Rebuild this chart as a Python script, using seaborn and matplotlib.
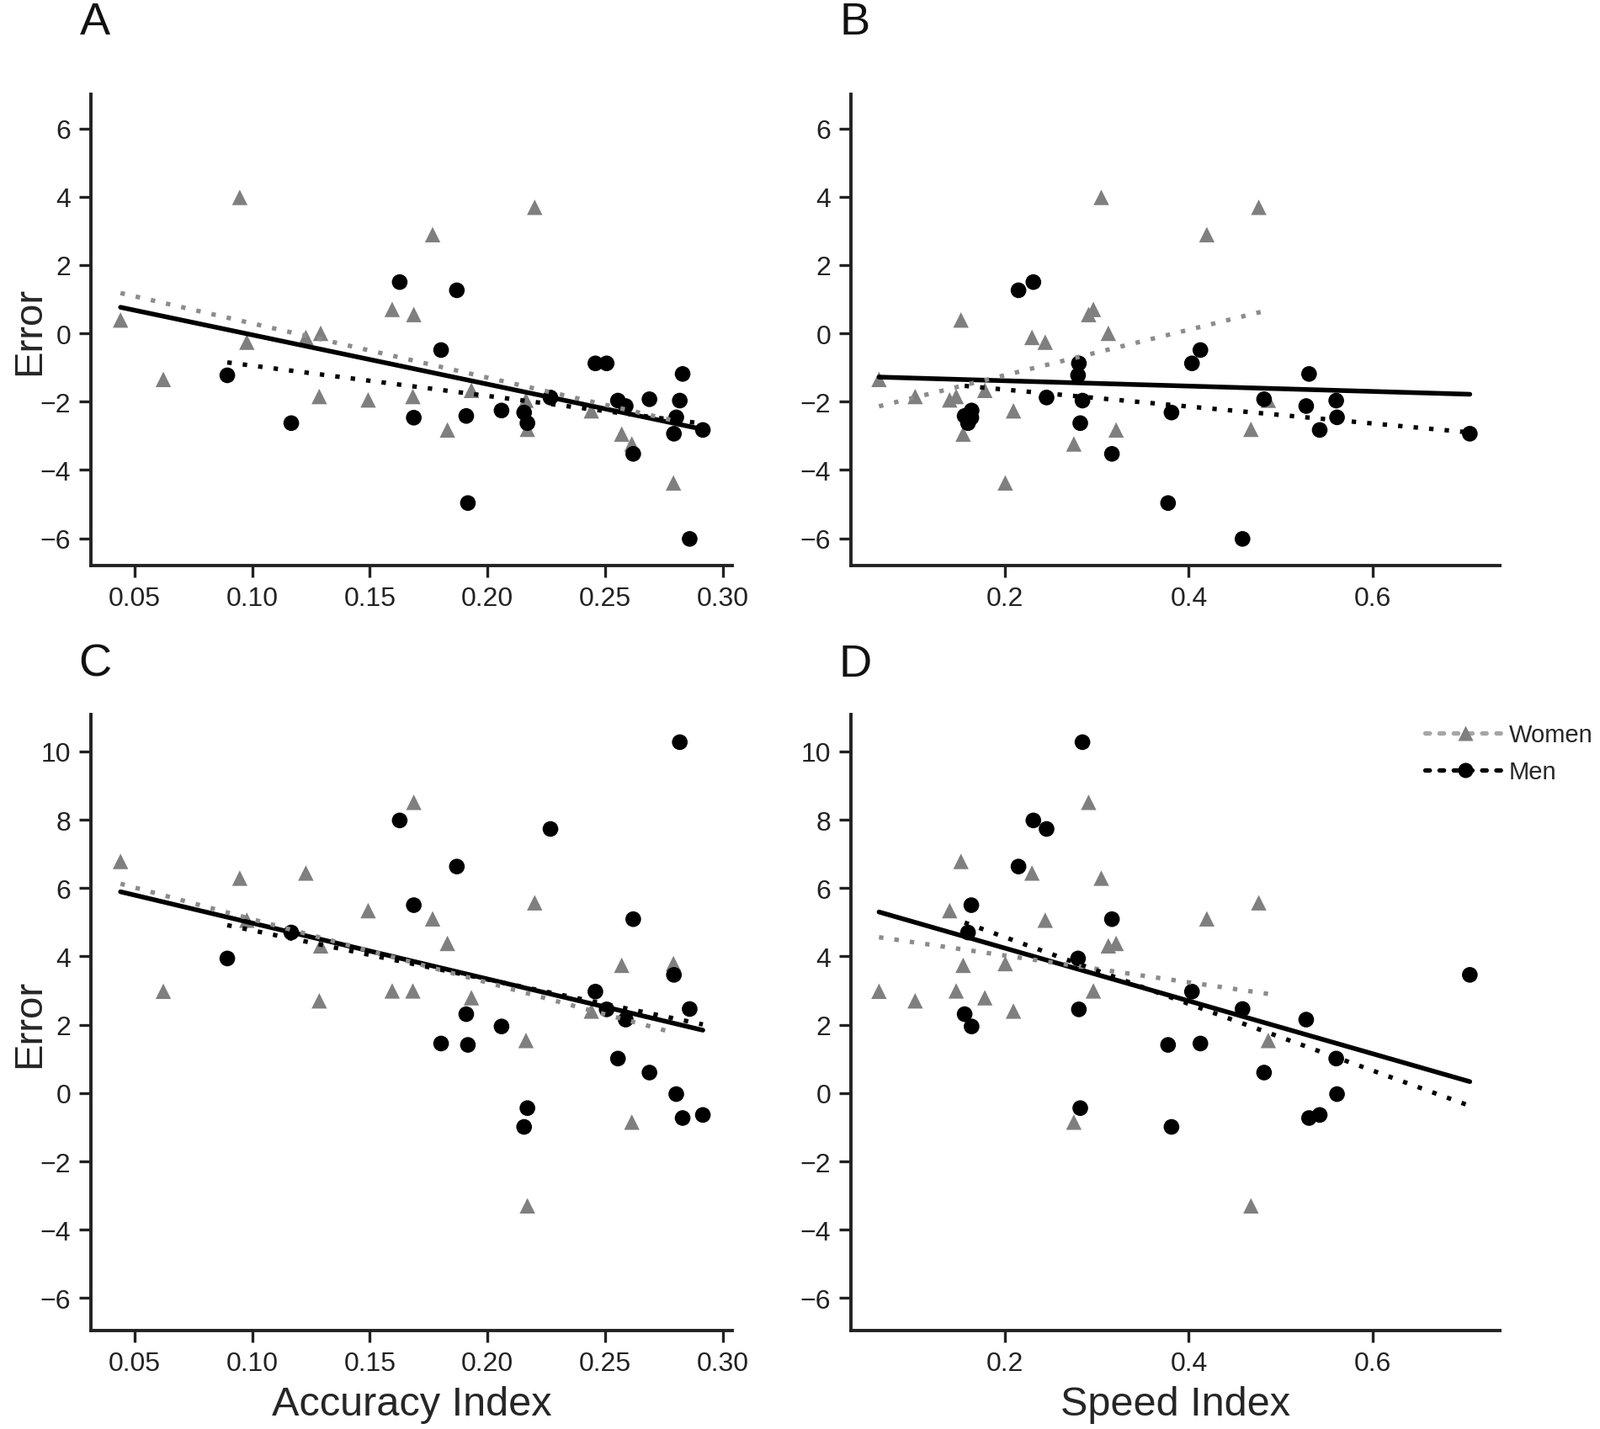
import matplotlib
matplotlib.use("Agg")
import numpy as np
import pandas as pd
import seaborn as sns
import matplotlib.pyplot as plt
from matplotlib.lines import Line2D
from matplotlib.ticker import FormatStrFormatter

# ---------------- data ----------------
women_accuracy = [0.044, 0.0622, 0.0947, 0.0977, 0.1228, 0.1291, 0.1285, 0.1493, 0.1595, 0.1687,
                  0.1683, 0.1767, 0.183, 0.1932, 0.2201, 0.2164, 0.217, 0.2442, 0.2571, 0.2614, 0.2791]
women_speed = [0.1517, 0.0624, 0.3046, 0.2435, 0.2291, 0.3123, 0.1018, 0.1394, 0.296, 0.2908,
               0.1465, 0.4196, 0.3208, 0.1777, 0.4762, 0.4866, 0.4677, 0.2089, 0.1541, 0.2747, 0.2]
women_error_top = [0.39, -1.35, 3.98, -0.26, -0.12, 0.0, -1.85, -1.95, 0.7, 0.55,
                   -1.85, 2.89, -2.83, -1.67, 3.69, -1.96, -2.81, -2.27, -2.95, -3.24, -4.38]
women_error_bottom = [6.78, 2.98, 6.29, 5.06, 6.44, 4.31, 2.70, 5.34, 2.99, 8.51,
                      2.99, 5.1, 4.38, 2.79, 5.57, 1.54, -3.3, 2.4, 3.74, -0.85, 3.79]

men_accuracy = [0.0894, 0.1166, 0.1627, 0.1687, 0.187, 0.1803, 0.191, 0.1917, 0.206, 0.2156,
                0.217, 0.2268, 0.2459, 0.2507, 0.2555, 0.2588, 0.262, 0.2689, 0.283, 0.2818,
                0.2803, 0.2793, 0.2916, 0.286]
men_speed = [0.2793, 0.1594, 0.2306, 0.163, 0.2144, 0.4126, 0.1557, 0.3774, 0.1633, 0.3811,
             0.2817, 0.245, 0.4034, 0.2802, 0.5606, 0.5279, 0.3162, 0.482, 0.531, 0.2841,
             0.5615, 0.7062, 0.5426, 0.4585]
men_error_top = [-1.23, -2.63, 1.5, -2.47, 1.26, -0.49, -2.42, -4.97, -2.26, -2.32,
                 -2.63, -1.88, -0.88, -0.88, -1.97, -2.13, -3.53, -1.93, -1.19, -1.97,
                 -2.46, -2.94, -2.83, -6.02]
men_error_bottom = [3.94, 4.7, 7.98, 5.5, 6.63, 1.45, 2.31, 1.41, 1.95, -0.99,
                    -0.44, 7.73, 2.97, 2.45, 1.01, 2.15, 5.09, 0.6, -0.73, 10.27,
                    -0.03, 3.46, -0.64, 2.46]

panel_letters = ["A", "B", "C", "D"]
accuracy_ticks = [0.05, 0.10, 0.15, 0.20, 0.25, 0.30]
speed_ticks = [0.2, 0.4, 0.6]
top_yticks = [-6, -4, -2, 0, 2, 4, 6]
bottom_yticks = [-6, -4, -2, 0, 2, 4, 6, 8, 10]
legend_labels = ["Women", "Men"]

women = pd.DataFrame({"accuracy": women_accuracy, "speed": women_speed,
                      "err_top": women_error_top, "err_bottom": women_error_bottom})
men = pd.DataFrame({"accuracy": men_accuracy, "speed": men_speed,
                    "err_top": men_error_top, "err_bottom": men_error_bottom})
women["sex"] = "Women"
men["sex"] = "Men"
both = pd.concat([women, men], ignore_index=True)

# ---------------- style ----------------
sns.set_theme(style="ticks")
plt.rcParams["font.family"] = ["Liberation Sans", "DejaVu Sans"]
plt.rcParams["axes.unicode_minus"] = True

W, H = 1901, 1699
fig = plt.figure(figsize=(W / 100, H / 100), dpi=100)


def px_axes(x0, x1, ytop, ybot):
    return fig.add_axes([x0 / W, 1 - ybot / H, (x1 - x0) / W, (ybot - ytop) / H])


axA = px_axes(108, 870, 113, 673)
axB = px_axes(1011, 1782, 113, 673)
axC = px_axes(108, 870, 850, 1582)
axD = px_axes(1011, 1782, 850, 1582)

GRAY_PT = "#7f7f7f"
GRAY_LN = "#8c8c8c"
DOT = (0, (1, 2.5))

panels = [
    (axA, "accuracy", "err_top", (0.0314, 0.3041), (-6.8, 7.0), accuracy_ticks, top_yticks, "%.2f"),
    (axB, "speed", "err_top", (0.0318, 0.7389), (-6.8, 7.0), speed_ticks, top_yticks, "%.1f"),
    (axC, "accuracy", "err_bottom", (0.0314, 0.3041), (-6.95, 11.08), accuracy_ticks, bottom_yticks, "%.2f"),
    (axD, "speed", "err_bottom", (0.0318, 0.7389), (-6.95, 11.08), speed_ticks, bottom_yticks, "%.1f"),
]

for ax, xc, yc, xl, yl, xt, yt, fmt in panels:
    sns.scatterplot(data=women, x=xc, y=yc, marker="^", s=175, color=GRAY_PT,
                    edgecolor="none", linewidth=0, ax=ax, zorder=2)
    sns.scatterplot(data=men, x=xc, y=yc, marker="o", s=180, color="black",
                    edgecolor="none", linewidth=0, ax=ax, zorder=2)
    sns.regplot(data=both, x=xc, y=yc, scatter=False, ci=None, color="black", ax=ax,
                line_kws=dict(lw=4.0, solid_capstyle="round", zorder=3))
    sns.regplot(data=women, x=xc, y=yc, scatter=False, ci=None, color=GRAY_LN, ax=ax,
                line_kws=dict(lw=3.8, ls=DOT, dash_capstyle="butt", zorder=4))
    sns.regplot(data=men, x=xc, y=yc, scatter=False, ci=None, color="black", ax=ax,
                line_kws=dict(lw=3.8, ls=DOT, dash_capstyle="butt", zorder=4))
    ax.set_xlim(*xl)
    ax.set_ylim(*yl)
    ax.set_xticks(xt)
    ax.set_yticks(yt)
    ax.xaxis.set_major_formatter(FormatStrFormatter(fmt))
    ax.set_xlabel("")
    ax.set_ylabel("")
    for s in ["top", "right"]:
        ax.spines[s].set_visible(False)
    for s in ["left", "bottom"]:
        ax.spines[s].set_linewidth(2.8)
        ax.spines[s].set_color("#222222")
    ax.tick_params(axis="both", labelsize=23, length=10, width=2.4, pad=7,
                   color="#222222", labelcolor="#222222")

for ax in (axA, axC):
    ax.set_ylabel("Error", fontsize=34)
    bb = ax.get_position()
    # anchor (right side of the rotated label box) ~57 px from the figure's left edge
    ax.yaxis.set_label_coords((57 / W - bb.x0) / bb.width, 0.5)
axC.set_xlabel("Accuracy Index", fontsize=35, labelpad=8)
axD.set_xlabel("Speed Index", fontsize=35, labelpad=8)

# panel letters
for letter, (xp, yp) in zip(panel_letters, [(113, 27), (1016, 27), (113, 790), (1016, 790)]):
    fig.text(xp / W, 1 - yp / H, letter, fontsize=39, ha="center", va="center", color="#111111")

# legend
handles = [
    Line2D([], [], color="#a6a6a6", lw=3.8, ls=(0, (1.0, 2.2)), dash_capstyle="round",
           marker="^", markersize=13, markerfacecolor=GRAY_PT, markeredgecolor="none"),
    Line2D([], [], color="black", lw=3.8, ls=(0, (1.0, 2.2)), dash_capstyle="round",
           marker="o", markersize=13, markerfacecolor="black", markeredgecolor="none"),
]
fig.legend(handles, legend_labels, loc="center left",
           bbox_to_anchor=(1693 / W, 1 - 896 / H), frameon=False, fontsize=21,
           handlelength=3.3, handletextpad=0.12, labelspacing=0.55,
           borderpad=0, borderaxespad=0, numpoints=1)

fig.savefig("out.png", dpi=100)
